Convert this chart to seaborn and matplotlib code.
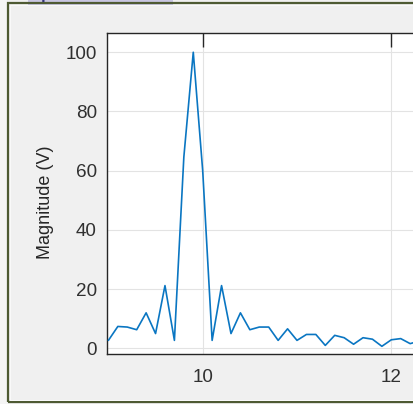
import matplotlib
matplotlib.use("Agg")
import matplotlib.pyplot as plt
from matplotlib.patches import Rectangle
import pandas as pd
import seaborn as sns

# Spectrum samples around the 9.9 Hz tone
freq = [9.0, 9.1, 9.2, 9.3, 9.4, 9.5, 9.6, 9.7, 9.8, 9.9,
        10.0, 10.1, 10.2, 10.3, 10.4, 10.5, 10.6, 10.7, 10.8, 10.9,
        11.0, 11.1, 11.2, 11.3, 11.4, 11.5, 11.6, 11.7, 11.8, 11.9,
        12.0, 12.1, 12.2, 12.3]
magnitude = [2.7, 7.4, 7.2, 6.3, 12.0, 5.0, 21.2, 2.7, 64.6, 100.0,
             60.0, 2.7, 21.2, 5.0, 12.0, 6.3, 7.2, 7.2, 2.7, 6.6,
             2.7, 4.7, 4.7, 1.0, 4.4, 3.6, 1.4, 3.6, 3.1, 0.7,
             2.9, 3.3, 1.6, 2.5]
x_ticks = [10, 12]
y_ticks = [0, 20, 40, 60, 80, 100]
y_label = "Magnitude (V)"
panel_title = "Spectrum Results"

df = pd.DataFrame({"freq": freq, "magnitude": magnitude})

sns.set_style("white")
plt.rcParams["font.family"] = ["Liberation Sans", "DejaVu Sans"]

W, H = 413, 404
fig = plt.figure(figsize=(W / 100, H / 100), dpi=100)
fig.patch.set_facecolor("#f0f0f0")

# left strip outside the panel
fig.add_artist(Rectangle((0, 0), 7.5 / W, 1, transform=fig.transFigure,
                         facecolor="#f5f5f5", edgecolor="none", zorder=0))
# panel title, scrolled mostly out of view
fig.text(30 / W, (H - 0.3) / H, panel_title, ha="left", va="baseline", fontsize=12,
         fontweight="bold", color="#33337a", zorder=0.5,
         bbox=dict(boxstyle="square,pad=0.1", facecolor="#c9c6e2", edgecolor="none"))
# panel border
fig.add_artist(Rectangle((8 / W, 2 / H), 1.2, (H - 5) / H, transform=fig.transFigure,
                         facecolor="none", edgecolor="#4e5a33", lw=1.6, zorder=1))
fig.add_artist(Rectangle((9.8 / W, 3.8 / H), 1.2, (H - 8.6) / H, transform=fig.transFigure,
                         facecolor="none", edgecolor="#fafafa", lw=0.7, zorder=1))

# axes in pixel placement; right part runs past the figure edge
ax_left, ax_right, ax_bottom, ax_top = 106.7, 520.0, 354.0, 33.0
ax = fig.add_axes([ax_left / W, (H - ax_bottom) / H,
                   (ax_right - ax_left) / W, (ax_bottom - ax_top) / H])
ax.set_facecolor("white")

sns.lineplot(data=df, x="freq", y="magnitude", ax=ax, color="#0a76c2",
             lw=1.2, zorder=3)

px_per_unit = 94.3
x0 = 10 - (202.7 - ax_left) / px_per_unit
ax.set_xlim(x0, x0 + (ax_right - ax_left) / px_per_unit)
ax.set_ylim(-1.9, 106.5)
ax.set_xticks(x_ticks)
ax.set_yticks(y_ticks)
ax.set_xlabel("")
ax.set_ylabel(y_label, fontsize=13, color="#262626")
ax.yaxis.set_label_coords((45 - ax_left) / (ax_right - ax_left),
                          (ax_bottom - 202) / (ax_bottom - ax_top))
ax.yaxis.label.set_va("center")

ax.grid(True, color="#e3e3e3", lw=0.8, zorder=0)
ax.set_axisbelow(True)
for s in ax.spines.values():
    s.set_color("#262626")
    s.set_linewidth(1.0)
    s.set_visible(True)

ax.tick_params(axis="both", direction="in", length=10, width=1.0,
               colors="#262626", labelsize=13.6, top=True, right=True)
ax.tick_params(axis="x", pad=10.5)
ax.tick_params(axis="y", pad=7)
for lbl in ax.get_xticklabels() + ax.get_yticklabels():
    lbl.set_color("#303030")

fig.savefig("out.png", dpi=100, facecolor=fig.get_facecolor())
